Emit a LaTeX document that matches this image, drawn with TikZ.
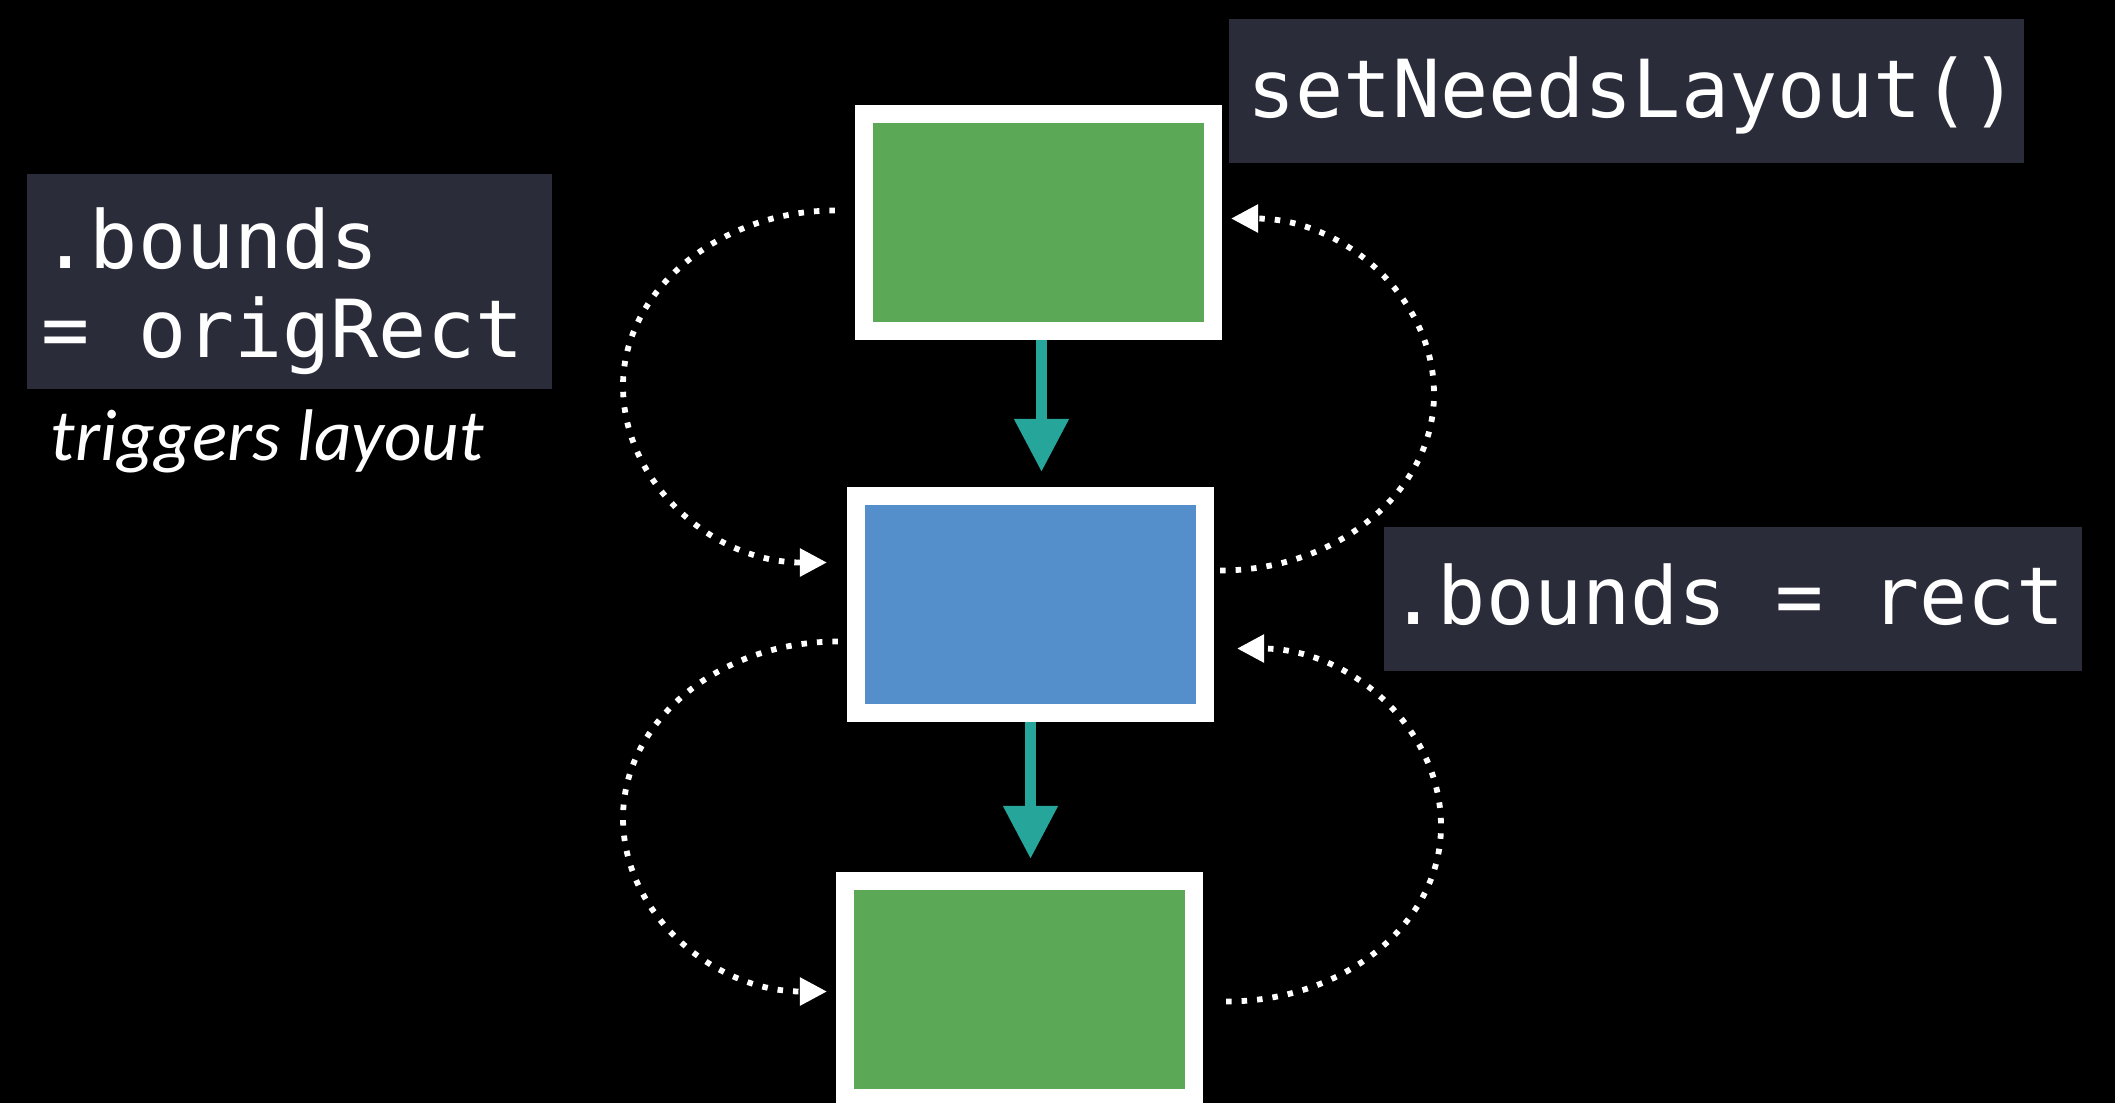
\documentclass[tikz,border=0pt]{standalone}
\usepackage{fontspec}
\setmonofont{DejaVu Sans Mono}
\newfontfamily\trigfont{Carlito}
\usetikzlibrary{arrows.meta,calc}
\definecolor{boxgreen}{RGB}{91,168,86}
\definecolor{boxblue}{RGB}{84,143,204}
\definecolor{flowteal}{RGB}{38,166,154}
\definecolor{codebg}{RGB}{42,44,58}
\tikzset{
  viewbox/.style={draw=white, line width=0.18cm, inner sep=0pt, minimum width=3.49cm, minimum height=2.17cm},
  codebox/.style={fill=codebg, draw=none, inner sep=0pt},
  codetext/.style={text=white, font=\ttfamily\fontsize{22.76pt}{27pt}\selectfont, inner sep=0pt},
  notetext/.style={text=white, font=\trigfont\itshape\fontsize{20.8pt}{25pt}\selectfont, inner sep=0pt},
  dotarc/.style={draw=white, line width=0.058cm, dash pattern=on 0.055cm off 0.1cm, -{Triangle[length=0.27cm,width=0.27cm]}},
  flow/.style={draw=flowteal, fill=flowteal, line width=0.11cm, -{Triangle[length=0.53cm,width=0.52cm]}}
}
\begin{document}
\begin{tikzpicture}[x=0.01cm,y=-0.01cm]
\useasboundingbox (0,0) rectangle (2115,1102);
\fill[black] (-20,-20) rectangle (2135,1122);
\clip (-20,-20) rectangle (2135,1122);

% view boxes
\node[viewbox, fill=boxgreen] (T) at (1038.5,222.5) {};
\node[viewbox, fill=boxblue]  (M) at (1030.5,604.5) {};
\node[viewbox, fill=boxgreen] (B) at (1019.5,989.5) {};

% flow arrows
\draw[flow, shorten >=0.15cm] ($(T.south)+(3,0)$) -- ($(T.south |- M.north)+(3,0)$);
\draw[flow, shorten >=0.13cm] (M.south) -- (M.south |- B.north);

% code labels
\node[codebox, minimum width=7.95cm, minimum height=1.44cm] (cb1) at (1626.5,91) {};
\node[codetext, anchor=base] (ct1) at (1633,117) {setNeedsLayout()};

\node[codebox, minimum width=6.98cm, minimum height=1.44cm] (cb2) at (1733,599) {};
\node[codetext, anchor=base] (ct2) at (1727,624) {.bounds = rect};

\node[codebox, minimum width=5.25cm, minimum height=2.15cm] (cb3) at (289.5,281.5) {};
\node[codetext, anchor=base west] (ct3a) at (41,268) {.bounds};
\node[codetext, anchor=base west] (ct3b) at (41,357) {= origRect};

\node[notetext, anchor=base west] (note) at (50,460) {triggers layout};

% dotted loops
\coordinate (lt1) at ($(T.west)+(-20,-12)$);
\coordinate (lt2) at ($(M.west)+(-20,-42)$);
\draw[dotarc] (lt1) .. controls (721,210.5) and (623,289) .. (623,386) .. controls (623,483) and (713,562.5) .. (lt2);

\coordinate (rt1) at ($(M.east)+(6,-34)$);
\coordinate (rt2) at ($(T.east)+(9,-4)$);
\draw[dotarc] (rt1) .. controls (1338,570.5) and (1434,491) .. (1434,394) .. controls (1434,297) and (1343,218.5) .. (rt2);

\coordinate (lb1) at ($(M.west)+(-9,37)$);
\coordinate (lb2) at ($(B.west)+(-9,2)$);
\draw[dotarc] (lb1) .. controls (719,641.5) and (623,721) .. (623,818) .. controls (623,914) and (714,991.5) .. (lb2);

\coordinate (rb1) at ($(B.east)+(23,12)$);
\coordinate (rb2) at ($(M.east)+(23,44)$);
\draw[dotarc] (rb1) .. controls (1345,1001.5) and (1441,923) .. (1441,826) .. controls (1441,728) and (1350,648.5) .. (rb2);
\end{tikzpicture}
\end{document}
